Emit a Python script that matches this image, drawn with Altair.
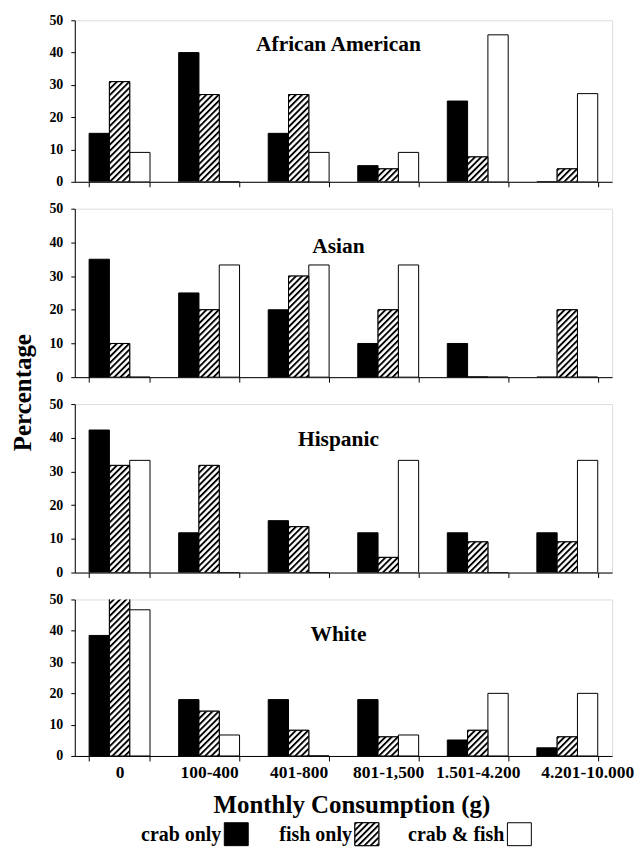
import base64
import altair as alt
import pandas as pd

# ---------------- data ----------------
groups = ["0", "100-400", "401-800", "801-1,500", "1.501-4.200", "4.201-10.000"]
series = ["crab only", "fish only", "crab & fish"]
panel_names = ["African American", "Asian", "Hispanic", "White"]

aa_crab = [15, 40, 15, 5, 25, 0]
aa_fish = [31, 27, 27, 4, 7.7, 4]
aa_both = [9.1, 0, 9.1, 9.1, 45.5, 27.3]

as_crab = [35, 25, 20, 10, 10, 0]
as_fish = [10, 20, 30, 20, 0, 20]
as_both = [0, 33.3, 33.3, 33.3, 0, 0]

hi_crab = [42.3, 11.8, 15.4, 11.8, 11.8, 11.8]
hi_fish = [31.8, 31.8, 13.6, 4.5, 9.1, 9.1]
hi_both = [33.3, 0, 0, 33.3, 0, 33.3]

wh_crab = [38.5, 18.0, 18.0, 18.0, 5.1, 2.6]
wh_fish = [51.0, 14.3, 8.2, 6.1, 8.2, 6.1]
wh_both = [46.7, 6.7, 0, 6.7, 20.0, 20.0]

panel_values = [
    (aa_crab, aa_fish, aa_both),
    (as_crab, as_fish, as_both),
    (hi_crab, hi_fish, hi_both),
    (wh_crab, wh_fish, wh_both),
]

# ---------------- style ----------------
FONT = "Liberation Serif"
W = 539
HEIGHTS = [162, 169, 169, 157]
TITLE_Y = [25, 38, 36, 36]

hatch_svg = (
    '<svg xmlns="http://www.w3.org/2000/svg">'
    '<defs><pattern id="h" width="4.4" height="4.4" patternUnits="userSpaceOnUse" '
    'patternTransform="rotate(45)"><rect width="1.9" height="4.4" fill="black"/></pattern></defs>'
    '<rect width="100%" height="100%" fill="white"/>'
    '<rect width="100%" height="100%" fill="url(#h)"/></svg>'
)
HATCH = "data:image/svg+xml;base64," + base64.b64encode(hatch_svg.encode()).decode()


def make_panel(i):
    crab, fish, both = panel_values[i]
    df = pd.DataFrame({
        "group": groups * 3,
        "series": [s for s in series for _ in groups],
        "value": list(crab) + list(fish) + list(both),
    })
    last = i == 3
    if last:
        xaxis = alt.Axis(
            title="Monthly Consumption (g)", titleFont=FONT, titleFontSize=25,
            titleFontWeight="bold", titleColor="black", titlePadding=11, titleX=W / 2 + 8,
            labelFont=FONT, labelFontSize=17.5, labelFontWeight="bold", labelColor="black",
            labelAngle=0, labelPadding=3,
            labelOffset={"condition": {"test": "datum.value == '4.201-10.000'", "value": 20}, "value": 0},
            tickBand="extent", tickSize=5, tickColor="black", domainColor="black",
        )
    else:
        xaxis = alt.Axis(labels=False, title=None, tickBand="extent", tickSize=5,
                         tickColor="black", domainColor="black")
    if i == 1:
        yaxis = alt.Axis(
            values=[0, 10, 20, 30, 40, 50], grid=False, labelFont=FONT, labelFontSize=14,
            labelFontWeight="bold", labelColor="black", tickSize=4, tickColor="black",
            domainColor="black", labelPadding=8,
            title="Percentage", titleFont=FONT, titleFontSize=25, titleFontWeight="bold",
            titleColor="black", titleX=-52, titleY=184, titleAngle=270,
            titleAlign="center", titleBaseline="middle",
        )
    else:
        yaxis = alt.Axis(
            values=[0, 10, 20, 30, 40, 50], grid=False, labelFont=FONT, labelFontSize=14,
            labelFontWeight="bold", labelColor="black", tickSize=4, tickColor="black",
            domainColor="black", labelPadding=8, title=None,
        )

    x = alt.X("group:N", sort=groups,
              scale=alt.Scale(domain=groups, paddingInner=0.32, paddingOuter=0.16),
              axis=xaxis)
    xo = alt.XOffset("series:N", sort=series,
                     scale=alt.Scale(domain=series, paddingInner=0, paddingOuter=0))
    y = alt.Y("value:Q", scale=alt.Scale(domain=[0, 50], nice=False), axis=yaxis)

    base = alt.Chart(df)
    bars = base.mark_bar(stroke="black", strokeWidth=1, clip=True).encode(
        x=x, xOffset=xo, y=y,
        fill=alt.Fill("series:N", scale=alt.Scale(domain=series, range=["black", "white", "white"]),
                      legend=None),
    )
    fish_df = base.transform_filter(alt.datum.series == "fish only")
    hatch = fish_df.mark_image(aspect=False, clip=True).encode(
        x=x, xOffset=xo, y=y, y2=alt.datum(0), url=alt.value(HATCH),
    )
    outline = fish_df.mark_bar(fill="transparent", stroke="black", strokeWidth=1, clip=True).encode(
        x=x, xOffset=xo, y=y,
    )
    title = alt.Chart(pd.DataFrame({"name": [panel_names[i]]})).mark_text(
        font=FONT, fontSize=21.5, fontWeight="bold", color="black", baseline="middle", align="center",
    ).encode(text="name:N", x=alt.value(W / 2 - 5), y=alt.value(TITLE_Y[i]))

    return alt.layer(bars, hatch, outline, title).properties(width=W, height=HEIGHTS[i])


panels = [make_panel(i) for i in range(4)]

# ---------------- legend ----------------
LEG_H = 64
box_left = [150, 281, 434]
box_w, box_h = 24, 23
box_top = LEG_H - box_h - 1
fills = ["black", "white", "white"]
leg_layers = []
for k, s in enumerate(series):
    one = alt.Chart(pd.DataFrame({"series": [s]}))
    leg_layers.append(one.mark_text(
        font=FONT, fontSize=20, fontWeight="bold", color="black", align="right", baseline="middle",
    ).encode(text="series:N", x=alt.value(box_left[k] - 3), y=alt.value(box_top + box_h / 2 + 1)))
    leg_layers.append(one.mark_rect(fill=fills[k], stroke="black", strokeWidth=1).encode(
        x=alt.value(box_left[k]), x2=alt.value(box_left[k] + box_w),
        y=alt.value(box_top), y2=alt.value(box_top + box_h)))
    if s == "fish only":
        leg_layers.append(one.mark_image(aspect=False).encode(
            url=alt.value(HATCH),
            x=alt.value(box_left[k]), x2=alt.value(box_left[k] + box_w),
            y=alt.value(box_top), y2=alt.value(box_top + box_h)))
        leg_layers.append(one.mark_rect(fill="transparent", stroke="black", strokeWidth=1).encode(
            x=alt.value(box_left[k]), x2=alt.value(box_left[k] + box_w),
            y=alt.value(box_top), y2=alt.value(box_top + box_h)))

legend = alt.layer(*leg_layers).properties(width=W, height=LEG_H, view={"stroke": "transparent"})

chart = alt.vconcat(*panels, legend, spacing=27, bounds="flush").properties(
    padding={"left": 2, "top": 3, "right": 0, "bottom": 0},
).configure_view(stroke="black", strokeWidth=1).configure(background="white")

chart.save("out.html", embed_options={"renderer": "svg", "actions": False})
